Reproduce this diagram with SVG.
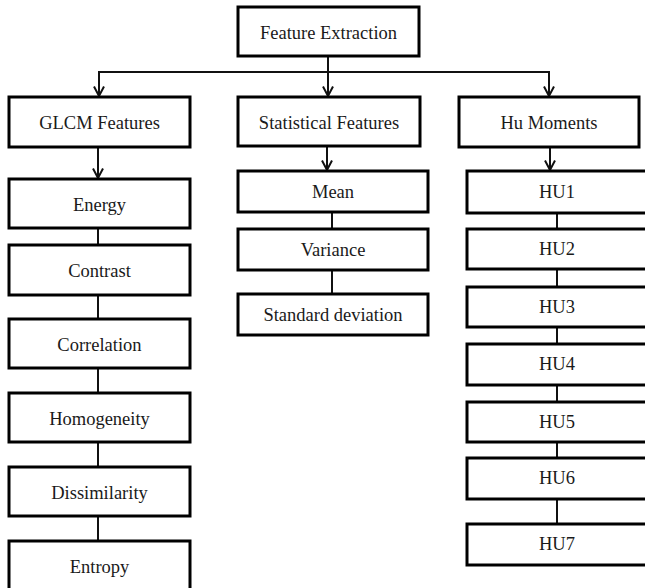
<svg xmlns="http://www.w3.org/2000/svg" width="645" height="588" viewBox="0 0 645 588">
<defs>
<style>
.box{fill:#fff;stroke:#000;stroke-width:3}
.t{font-family:"Liberation Serif","Times New Roman",serif;font-size:18.5px;fill:#1a1a1a;text-anchor:middle}
.c{stroke:#111;stroke-width:2;fill:none}
</style>
<marker id="arr" viewBox="0 0 12 12" markerWidth="12" markerHeight="12" refX="10.5" refY="6" orient="auto" markerUnits="userSpaceOnUse">
<path d="M1,1 L10.5,6 L1,11" fill="none" stroke="#111" stroke-width="2"/>
</marker>
</defs>
<rect width="645" height="588" fill="#fff"/>
<g id="connectors">
<line class="c" x1="328" y1="56" x2="328" y2="96" marker-end="url(#arr)"/>
<line class="c" x1="98" y1="72" x2="550" y2="72"/>
<line class="c" x1="99" y1="71" x2="99" y2="96" marker-end="url(#arr)"/>
<line class="c" x1="549" y1="71" x2="549" y2="96" marker-end="url(#arr)"/>
<line class="c" x1="98" y1="147" x2="98" y2="178" marker-end="url(#arr)"/>
<line class="c" x1="327" y1="146" x2="327" y2="170" marker-end="url(#arr)"/>
<line class="c" x1="550" y1="147" x2="550" y2="170" marker-end="url(#arr)"/>
<line class="c" x1="98" y1="228" x2="98" y2="245"/>
<line class="c" x1="98" y1="295" x2="98" y2="319"/>
<line class="c" x1="98" y1="368" x2="98" y2="393"/>
<line class="c" x1="98" y1="442" x2="98" y2="467"/>
<line class="c" x1="98" y1="516" x2="98" y2="541"/>
<line class="c" x1="332" y1="212" x2="332" y2="229"/>
<line class="c" x1="332" y1="270" x2="332" y2="294"/>
<line class="c" x1="557" y1="213" x2="557" y2="229"/>
<line class="c" x1="557" y1="269" x2="557" y2="287"/>
<line class="c" x1="557" y1="327" x2="557" y2="344"/>
<line class="c" x1="557" y1="385" x2="557" y2="402"/>
<line class="c" x1="557" y1="442" x2="557" y2="458"/>
<line class="c" x1="557" y1="499" x2="557" y2="524"/>
</g>
<g id="feature-extraction"><rect class="box" x="238" y="7" width="181" height="49"/><text class="t" x="328.5" y="39">Feature Extraction</text></g>
<g id="glcm"><rect class="box" x="9" y="97" width="181" height="50"/><text class="t" x="99.5" y="129">GLCM Features</text></g>
<g id="statistical"><rect class="box" x="238" y="97" width="182" height="49"/><text class="t" x="329" y="129">Statistical Features</text></g>
<g id="hu-moments"><rect class="box" x="459" y="97" width="180" height="50"/><text class="t" x="549" y="129">Hu Moments</text></g>
<g id="energy"><rect class="box" x="9" y="179" width="181" height="49"/><text class="t" x="99.5" y="211">Energy</text></g>
<g id="contrast"><rect class="box" x="9" y="245" width="181" height="50"/><text class="t" x="99.5" y="277">Contrast</text></g>
<g id="correlation"><rect class="box" x="9" y="319" width="181" height="49"/><text class="t" x="99.5" y="351">Correlation</text></g>
<g id="homogeneity"><rect class="box" x="9" y="393" width="181" height="49"/><text class="t" x="99.5" y="425">Homogeneity</text></g>
<g id="dissimilarity"><rect class="box" x="9" y="467" width="181" height="49"/><text class="t" x="99.5" y="499">Dissimilarity</text></g>
<g id="entropy"><rect class="box" x="9" y="541" width="181" height="60"/><text class="t" x="99.5" y="573">Entropy</text></g>
<g id="mean"><rect class="box" x="238" y="171" width="190" height="41"/><text class="t" x="333" y="198">Mean</text></g>
<g id="variance"><rect class="box" x="238" y="229" width="190" height="41"/><text class="t" x="333" y="256">Variance</text></g>
<g id="std"><rect class="box" x="238" y="294" width="190" height="41"/><text class="t" x="333" y="321">Standard deviation</text></g>
<g id="hu1"><rect class="box" x="467" y="171" width="190" height="42"/><text class="t" x="557" y="198">HU1</text></g>
<g id="hu2"><rect class="box" x="467" y="229" width="190" height="40"/><text class="t" x="557" y="255">HU2</text></g>
<g id="hu3"><rect class="box" x="467" y="287" width="190" height="40"/><text class="t" x="557" y="313">HU3</text></g>
<g id="hu4"><rect class="box" x="467" y="344" width="190" height="41"/><text class="t" x="557" y="370">HU4</text></g>
<g id="hu5"><rect class="box" x="467" y="402" width="190" height="40"/><text class="t" x="557" y="428">HU5</text></g>
<g id="hu6"><rect class="box" x="467" y="458" width="190" height="41"/><text class="t" x="557" y="484">HU6</text></g>
<g id="hu7"><rect class="box" x="467" y="524" width="190" height="41"/><text class="t" x="557" y="550">HU7</text></g>
</svg>
